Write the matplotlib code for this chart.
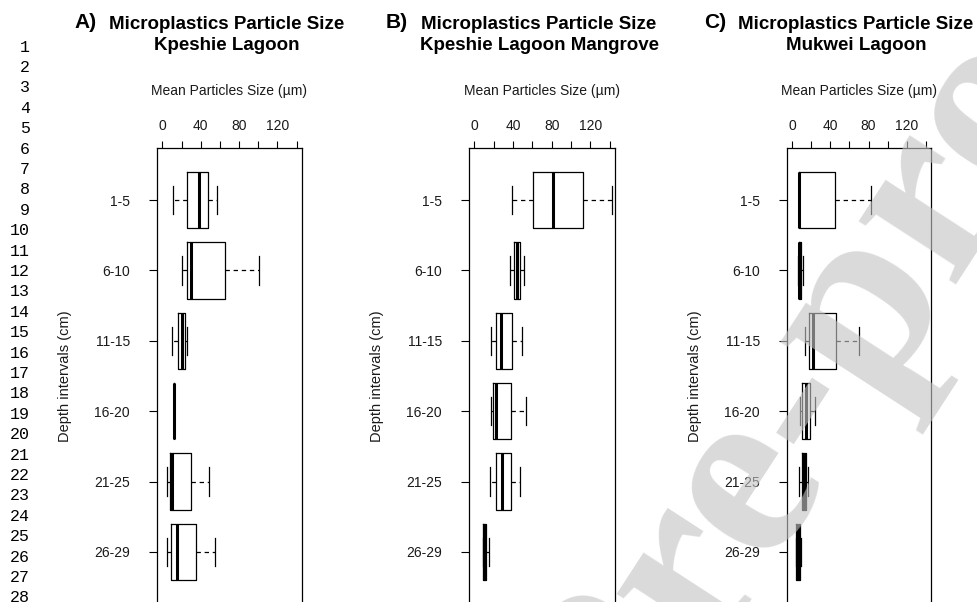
import matplotlib
matplotlib.use('Agg')
import matplotlib.pyplot as plt

plt.rcParams['font.family'] = ['Liberation Sans', 'DejaVu Sans']

# ---------------- data ----------------
depth_labels = ['1-5', '6-10', '11-15', '16-20', '21-25', '26-29']
x_ticks = [0, 20, 40, 60, 80, 100, 120, 140]
x_tick_labels = ['0', '', '40', '', '80', '', '120', '']

panel_letters = ['A)', 'B)', 'C)']
title_line1 = 'Microplastics Particle Size'
title_line2 = ['Kpeshie Lagoon', 'Kpeshie Lagoon Mangrove', 'Mukwei Lagoon']
x_label = 'Mean Particles Size (µm)'
y_label = 'Depth intervals (cm)'

# Panel A: Kpeshie Lagoon
a_whislo = [11.5, 20.5, 10.4, 12.0, 5.2, 5.2]
a_q1 = [25.4, 25.4, 16.0, 12.0, 7.7, 9.4]
a_med = [38.2, 29.9, 20.5, 12.0, 10.1, 15.3]
a_q3 = [47.3, 65.3, 23.3, 12.0, 30.2, 35.1]
a_whishi = [56.7, 100.4, 26.0, 12.0, 49.0, 54.9]

# Panel B: Kpeshie Lagoon Mangrove
b_whislo = [38.7, 36.9, 16.9, 16.9, 15.9, 8.5]
b_q1 = [60.7, 40.7, 22.4, 19.3, 22.4, 8.7]
b_med = [81.4, 43.8, 27.6, 22.8, 28.3, 9.7]
b_q3 = [112.7, 46.9, 38.7, 38.3, 38.3, 11.8]
b_whishi = [142.0, 51.0, 49.6, 53.5, 47.0, 14.9]

# Panel C: Mukwei Lagoon
c_whislo = [6.6, 5.5, 13.2, 8.0, 7.0, 4.0]
c_q1 = [6.6, 6.5, 17.4, 10.5, 9.7, 4.2]
c_med = [6.6, 7.5, 21.6, 14.7, 12.2, 5.6]
c_q3 = [45.1, 9.5, 46.1, 18.4, 14.3, 7.6]
c_whishi = [83.1, 11.5, 70.2, 23.4, 16.4, 9.4]

panels = [
    (a_whislo, a_q1, a_med, a_q3, a_whishi),
    (b_whislo, b_q1, b_med, b_q3, b_whishi),
    (c_whislo, c_q1, c_med, c_q3, c_whishi),
]

# ---------------- layout ----------------
W, H = 977, 602
fig = plt.figure(figsize=(W / 100, H / 100), dpi=100)
fig.patch.set_facecolor('white')

axes_px = [(157, 145), (469, 146), (787, 144)]  # left, width in pixels
top_px, bot_px = 148, 604
positions = list(range(1, len(depth_labels) + 1))
txt = '#1a1a1a'

for i, (stats_lists, (lpx, wpx)) in enumerate(zip(panels, axes_px)):
    ax = fig.add_axes([lpx / W, (H - bot_px) / H, wpx / W, (bot_px - top_px) / H])
    wl, q1, md, q3, wh = stats_lists
    stats = [dict(whislo=wl[k], q1=q1[k], med=md[k], q3=q3[k], whishi=wh[k], fliers=[])
             for k in range(len(depth_labels))]
    ax.bxp(stats, positions=positions, orientation='horizontal', widths=0.8,
           capwidths=0.4, showfliers=False,
           boxprops=dict(color='black', linewidth=0.9),
           medianprops=dict(color='black', linewidth=2.2, solid_capstyle='butt'),
           whiskerprops=dict(color='black', linewidth=0.9, linestyle=(0, (3.5, 3))),
           capprops=dict(color='black', linewidth=0.9))
    ax.set_xlim(-5.6, 145.6)
    ax.set_ylim(6.74, 0.26)
    ax.xaxis.tick_top()
    ax.xaxis.set_label_position('top')
    ax.set_xticks(x_ticks)
    ax.set_xticklabels(x_tick_labels)
    ax.set_yticks(positions)
    ax.set_yticklabels(depth_labels)
    ax.tick_params(axis='x', direction='out', length=5, width=0.8, pad=6,
                   labelsize=10, labelcolor=txt)
    ax.tick_params(axis='y', direction='out', length=6, width=0.8, pad=13.5,
                   labelsize=10, labelcolor=txt)
    for s in ax.spines.values():
        s.set_linewidth(0.9)
    ax.set_xlabel(x_label, fontsize=10, labelpad=17, color=txt)
    ax.set_ylabel(y_label, fontsize=10.5, color=txt)
    ax.yaxis.set_label_coords(-85 / wpx, 0.5)

    cx = (lpx + wpx / 2 - 3) / W
    fig.text(cx, 1 - 29 / H, title_line1, ha='center', va='baseline',
             fontsize=13.5, fontweight='bold')
    fig.text(cx, 1 - 50 / H, title_line2[i], ha='center', va='baseline',
             fontsize=13.5, fontweight='bold')
    fig.text((lpx - 83) / W, 1 - 28 / H, panel_letters[i], ha='left', va='baseline',
             fontsize=15, fontweight='bold')

# line numbers of the manuscript page
for n in range(1, 29):
    yc = 47 + (n - 1) * 20.4
    fig.text(30 / W, 1 - yc / H, str(n), ha='right', va='center',
             fontsize=12, family='Liberation Mono', color='black')

# watermark
fig.text(625 / W, (H - 788) / H, 'Pre-proof', rotation=57, rotation_mode='anchor',
         ha='left', va='baseline', fontsize=182, family='Liberation Serif',
         fontweight='bold', color='#c4c4c4', alpha=0.62, zorder=10)

fig.savefig('out.png', dpi=100)
